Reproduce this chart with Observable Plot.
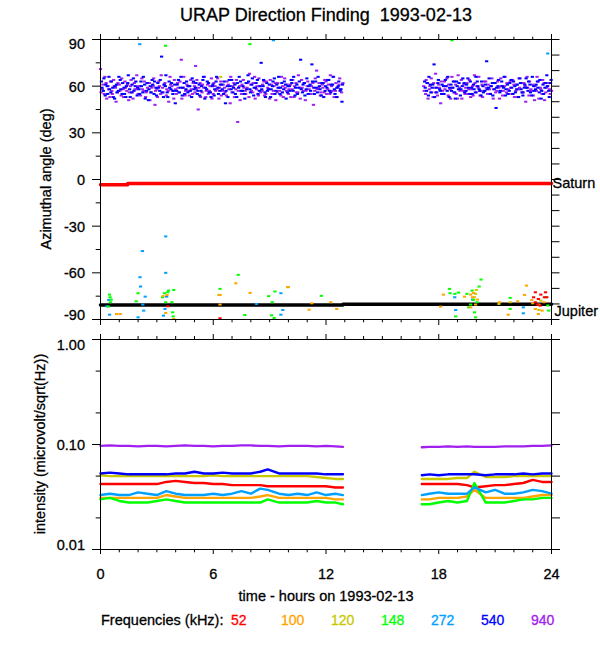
<!DOCTYPE html>
<html><head><meta charset="utf-8">
<script src="https://cdn.jsdelivr.net/npm/d3@7"></script>
<script src="https://cdn.jsdelivr.net/npm/@observablehq/plot@0.6"></script>
<style>
body{margin:0;background:#fff;font-family:"Liberation Sans",Arial,Helvetica,sans-serif;}
#wrap{position:relative;width:600px;height:650px;overflow:hidden;background:#fff;}
.t{position:absolute;white-space:nowrap;color:#000;-webkit-text-stroke:0.3px currentColor;}
#wrap svg{position:absolute;left:0;}
</style></head><body><div id="wrap"></div>
<script>
// ---------- tick values / labels ----------
const hourMajor = [0, 6, 12, 18, 24];
const hourMinor = [1,2,3,4,5,7,8,9,10,11,13,14,15,16,17,19,20,21,22,23];
const azMajor = [-60, -30, 0, 30, 60];
const azMinor = [-75, -45, -15, 15, 45, 75];
const azRight = [-90,-80,-70,-60,-50,-40,-30,-20,-10,0,10,20,30,40,50,60,70,80,90];
const intMajor = [0.01, 0.1, 1];
const intMinor = [0.02, 0.05, 0.2, 0.5];
const intRight = [0.01, 0.02, 0.05, 0.1, 0.2, 0.5, 1];
const freqs = ["52", "100", "120", "148", "272", "540", "940"];
const freqColors = ["#ff0000", "#ffa500", "#c8c800", "#00ff00", "#00a0ff", "#0000ff", "#a020f0"];

// ---------- reference source lines (hours, degrees) ----------
const saturnT = [0, 1.45, 1.45, 24];
const saturnA = [-3.3, -3.3, -2.5, -2.5];
const jupiterT = [0, 12.9, 12.9, 24];
const jupiterA = [-80.7, -80.7, -80.2, -80.2];

// ---------- azimuth points [hour, deg] per frequency ----------
const az940 = [[0.0,71],[0.1,58],[0.2,55],[0.3,62],[0.4,60],[0.5,53],[0.6,57],[0.7,64],[0.8,59],[0.9,56],
[1.0,61],[1.1,54],[1.2,58],[1.3,63],[1.4,57],[1.5,51],[1.6,60],[1.7,56],[1.8,62],[1.9,58],
[2.0,55],[2.1,60],[2.2,65],[2.3,57],[2.4,53],[2.5,59],[2.6,62],[2.7,56],[2.8,60],[2.9,48],
[3.0,58],[3.1,63],[3.2,55],[3.3,59],[3.4,61],[3.5,54],[3.6,57],[3.7,66],[3.8,60],[3.9,52],
[4.0,58],[4.1,62],[4.2,56],[4.3,77],[4.4,59],[4.5,54],[4.6,61],[4.7,57],[4.8,64],[4.9,55],
[5.0,60],[5.06,73],[5.1,58],[5.2,45],[5.3,62],[5.4,56],[5.5,59],[5.6,53],[5.7,61],[5.8,57],[5.9,65],
[6.0,55],[6.1,60],[6.2,58],[6.3,52],[6.4,63],[6.5,57],[6.6,59],[6.7,54],[6.8,61],[6.9,49],
[7.0,56],[7.1,62],[7.2,58],[7.3,37],[7.4,60],[7.5,55],[7.6,64],[7.7,57],[7.8,59],[7.9,53],
[8.0,61],[8.1,56],[8.2,66],[8.3,58],[8.4,54],[8.5,60],[8.6,57],[8.7,63],[8.8,55],[8.9,59],
[9.0,52],[9.1,61],[9.2,57],[9.3,62],[9.4,56],[9.5,59],[9.6,54],[9.7,60],[9.8,65],[9.9,57],
[10.0,55],[10.1,61],[10.2,58],[10.3,53],[10.4,62],[10.5,56],[10.6,59],[10.7,64],[10.8,57],[10.9,51],
[11.0,60],[11.1,58],[11.2,55],[11.3,62],[11.4,57],[11.5,70],[11.6,59],[11.7,54],[11.8,61],[11.9,56],
[12.0,63],[12.1,58],[12.2,55],[12.3,60],[12.4,66],[12.5,57],[12.6,53],[12.7,61],[12.8,58],[12.9,62],
[17.2,60],[17.3,55],[17.4,62],[17.5,58],[17.6,65],[17.7,53],[17.8,59],[17.9,56],[18.0,61],[18.1,49],
[18.2,57],[18.3,63],[18.4,60],[18.5,54],[18.6,58],[18.7,66],[18.8,56],[18.9,61],[19.0,52],[19.1,59],
[19.2,64],[19.3,57],[19.4,55],[19.5,62],[19.6,58],[19.7,53],[19.8,60],[19.9,67],[20.0,56],[20.1,59],
[20.2,54],[20.3,61],[20.4,57],[20.5,63],[20.6,55],[20.7,58],[20.8,60],[20.9,52],[21.0,62],[21.1,57],
[21.2,59],[21.3,65],[21.4,54],[21.5,60],[21.6,56],[21.7,58],[21.8,63],[21.9,55],[22.0,61],[22.1,57],
[22.2,53],[22.3,59],[22.4,62],[22.5,56],[22.6,60],[22.7,66],[22.8,54],[22.9,58],[23.0,61],[23.1,51],
[23.2,57],[23.3,63],[23.4,59],[23.5,55],[23.6,62],[23.7,56],[23.8,60],[23.9,58],[24.0,57],
[0.03,56],[0.13,61],[0.23,66],[0.33,52],[0.43,58],[0.53,63],[0.63,55],[0.73,60],[0.83,50],[0.93,62],
[1.03,57],[1.13,65],[1.23,53],[1.33,59],[1.43,61],[1.53,56],[1.63,64],[1.73,52],[1.83,58],[1.93,67],
[2.03,60],[2.13,54],[2.23,58],[2.33,63],[2.43,56],[2.53,62],[2.63,51],[2.73,59],[2.83,65],[2.93,57],
[3.03,53],[3.13,60],[3.23,67],[3.33,56],[3.43,62],[3.53,58],[3.63,50],[3.73,61],[3.83,57],[3.93,64],
[4.03,55],[4.13,59],[4.23,63],[4.33,52],[4.43,66],[4.53,57],[4.63,60],[4.73,54],[4.83,58],[4.93,62],
[5.03,56],[5.13,64],[5.23,59],[5.33,53],[5.43,61],[5.53,66],[5.63,57],[5.73,55],[5.83,60],[5.93,52],
[6.03,62],[6.13,57],[6.23,65],[6.33,59],[6.43,54],[6.53,61],[6.63,56],[6.73,63],[6.83,58],[6.93,66],
[7.03,60],[7.13,53],[7.23,64],[7.33,57],[7.43,51],[7.53,61],[7.63,59],[7.73,55],[7.83,62],[7.93,68],
[8.03,57],[8.13,62],[8.23,52],[8.33,60],[8.43,65],[8.53,56],[8.63,61],[8.73,54],[8.83,63],[8.93,58],
[9.03,64],[9.13,55],[9.23,60],[9.33,51],[9.43,62],[9.53,57],[9.63,66],[9.73,53],[9.83,59],[9.93,61],
[10.03,58],[10.13,53],[10.23,64],[10.33,60],[10.43,56],[10.53,67],[10.63,52],[10.73,59],[10.83,62],[10.93,57],
[11.03,63],[11.13,55],[11.23,60],[11.33,48],[11.43,65],[11.53,58],[11.63,62],[11.73,56],[11.83,59],[11.93,64],
[12.03,55],[12.13,61],[12.23,67],[12.33,57],[12.43,53],[12.53,62],[12.63,59],[12.73,65],[12.83,56],
[17.23,57],[17.33,64],[17.43,52],[17.53,60],[17.63,56],[17.73,62],[17.83,68],[17.93,54],[18.03,59],[18.13,63],
[18.23,55],[18.33,58],[18.43,65],[18.53,61],[18.63,52],[18.73,59],[18.83,63],[18.93,55],[19.03,67],[19.13,57],
[19.23,52],[19.33,61],[19.43,59],[19.53,55],[19.63,64],[19.73,58],[19.83,54],[19.93,62],[20.03,60],[20.13,66],
[20.23,57],[20.33,53],[20.43,63],[20.53,59],[20.63,61],[20.73,55],[20.83,65],[20.93,58],[21.03,56],[21.13,63],
[21.23,52],[21.33,60],[21.43,57],[21.53,66],[21.63,62],[21.73,55],[21.83,59],[21.93,64],[22.03,53],[22.13,61],
[22.23,58],[22.33,65],[22.43,56],[22.53,62],[22.63,50],[22.73,59],[22.83,63],[22.93,57],[23.03,54],[23.13,60],
[23.23,66],[23.33,52],[23.43,58],[23.53,64],[23.63,51],[23.73,59],[23.83,62],[23.93,55]];

const az540 = [[0.05,63],[0.15,57],[0.25,54],[0.35,60],[0.45,66],[0.55,56],[0.65,59],[0.75,52],[0.85,61],[0.95,57],
[1.05,64],[1.15,55],[1.25,59],[1.35,53],[1.45,62],[1.55,58],[1.65,56],[1.75,65],[1.85,60],[1.95,54],
[2.05,58],[2.15,63],[2.25,56],[2.35,61],[2.45,57],[2.55,51],[2.65,60],[2.75,64],[2.85,55],[2.95,59],
[3.05,62],[3.25,79],[3.15,57],[3.35,53],[3.45,60],[3.55,56],[3.65,63],[3.75,58],[3.85,55],[3.95,61],
[4.05,57],[4.15,64],[4.25,59],[4.35,54],[4.45,62],[4.55,58],[4.65,56],[4.75,60],[4.85,53],[4.95,63],
[5.05,59],[5.15,55],[5.25,61],[5.35,57],[5.45,64],[5.55,52],[5.65,58],[5.75,62],[5.85,56],[5.95,60],
[6.05,54],[6.15,63],[6.25,59],[6.35,57],[6.45,61],[6.55,55],[6.65,49],[6.75,60],[6.85,64],[6.95,58],
[7.05,56],[7.15,61],[7.25,53],[7.35,59],[7.45,63],[7.55,57],[7.65,55],[7.75,62],[7.85,67],[7.95,58],
[8.05,61],[8.15,54],[8.25,59],[8.35,64],[8.45,57],[8.55,75],[8.65,60],[8.75,56],[8.85,62],[8.95,58],
[9.05,53],[9.15,60],[9.25,65],[9.35,57],[9.45,59],[9.55,55],[9.65,62],[9.75,58],[9.85,61],[9.95,56],
[10.05,60],[10.15,64],[10.25,57],[10.35,54],[10.45,61],[10.55,59],[10.65,77],[10.75,56],[10.85,62],[10.95,58],
[11.05,55],[11.15,61],[11.25,74],[11.35,59],[11.45,63],[11.55,56],[11.65,60],[11.75,54],[11.85,62],[11.95,57],
[12.05,59],[12.15,64],[12.25,56],[12.35,61],[12.45,58],[12.55,53],[12.65,60],[12.75,57],[12.85,50],
[17.25,63],[17.35,57],[17.45,54],[17.55,61],[17.65,59],[17.75,74],[17.85,56],[17.95,62],[18.05,58],[18.15,55],
[18.25,60],[18.35,64],[18.45,57],[18.55,53],[18.65,61],[18.75,59],[18.85,56],[18.95,63],[19.05,58],[19.15,54],
[19.25,60],[19.35,62],[19.45,57],[19.55,65],[19.65,55],[19.75,59],[19.85,61],[19.95,56],[20.05,63],[20.15,58],
[20.25,54],[20.35,60],[20.45,57],[20.55,76],[20.65,59],[20.75,55],[20.85,62],[20.95,58],[21.05,46],[21.15,60],
[21.25,56],[21.35,63],[21.45,59],[21.55,54],[21.65,61],[21.75,57],[21.85,64],[21.95,55],[22.05,60],[22.15,58],
[22.25,53],[22.35,62],[22.45,56],[22.55,59],[22.65,65],[22.75,57],[22.85,61],[22.95,54],[23.05,60],[23.15,58],
[23.25,63],[23.35,56],[23.45,52],[23.55,61],[23.65,59],[23.75,67],[23.85,57],[23.95,62],
[0.08,59],[0.18,65],[0.28,61],[0.38,55],[0.48,58],[0.58,63],[0.68,53],[0.78,60],[0.88,56],[0.98,66],
[1.08,58],[1.18,62],[1.28,55],[1.38,60],[1.48,67],[1.58,53],[1.68,61],[1.78,57],[1.88,63],[1.98,59],
[2.08,55],[2.18,60],[2.28,66],[2.38,52],[2.48,62],[2.58,58],[2.68,56],[2.78,61],[2.88,63],[2.98,54],
[3.08,59],[3.18,64],[3.28,56],[3.38,61],[3.48,67],[3.58,53],[3.68,59],[3.78,62],[3.88,57],[3.98,49],
[4.08,61],[4.18,56],[4.28,66],[4.38,59],[4.48,55],[4.58,63],[4.68,60],[4.78,57],[4.88,65],[4.98,58],
[5.08,62],[5.18,57],[5.28,54],[5.38,60],[5.48,66],[5.58,59],[5.68,63],[5.78,56],[5.88,53],[5.98,61],
[6.08,58],[6.18,66],[6.28,55],[6.38,61],[6.48,58],[6.58,63],[6.68,57],[6.78,53],[6.88,60],[6.98,64],
[7.08,59],[7.18,55],[7.28,62],[7.38,66],[7.48,57],[7.58,60],[7.68,52],[7.78,58],[7.88,63],[7.98,56],
[8.08,65],[8.18,59],[8.28,62],[8.38,55],[8.48,60],[8.58,58],[8.68,64],[8.78,53],[8.88,57],[8.98,61],
[9.08,58],[9.18,63],[9.28,55],[9.38,61],[9.48,66],[9.58,59],[9.68,56],[9.78,63],[9.88,52],[9.98,60],
[10.08,57],[10.18,62],[10.28,66],[10.38,59],[10.48,55],[10.58,63],[10.68,58],[10.78,61],[10.88,54],[10.98,65],
[11.08,60],[11.18,57],[11.28,63],[11.38,55],[11.48,59],[11.58,66],[11.68,58],[11.78,62],[11.88,53],[11.98,60],
[12.08,64],[12.18,57],[12.28,61],[12.38,66],[12.48,55],[12.58,59],[12.68,63],[12.78,58],[12.88,61],
[17.28,59],[17.38,62],[17.48,66],[17.58,56],[17.68,61],[17.78,53],[17.88,59],[17.98,64],[18.08,57],[18.18,61],
[18.28,55],[18.38,60],[18.48,66],[18.58,59],[18.68,57],[18.78,63],[18.88,52],[18.98,60],[19.08,62],[19.18,58],
[19.28,65],[19.38,56],[19.48,61],[19.58,59],[19.68,63],[19.78,55],[19.88,58],[19.98,66],[20.08,60],[20.18,57],
[20.28,63],[20.38,56],[20.48,61],[20.58,58],[20.68,65],[20.78,60],[20.88,54],[20.98,62],[21.08,59],[21.18,64],
[21.28,57],[21.38,60],[21.48,66],[21.58,58],[21.68,55],[21.78,62],[21.88,59],[21.98,63],[22.08,56],[22.18,61],
[22.28,65],[22.38,58],[22.48,54],[22.58,61],[22.68,59],[22.78,63],[22.88,56],[22.98,66],[23.08,57],[23.18,61],
[23.28,59],[23.38,64],[23.48,57],[23.58,55],[23.68,62],[23.78,60],[23.88,53],[23.98,64]];

const az272 = [[0.34,-81.5],[0.44,-77.4],[0.48,-86.9],[2.0,-88.6],[2.1,-62.8],[2.13,-68.8],[2.23,-46],[2.25,-80.4],
[2.3,-84.3],[2.38,-75.3],[3.35,-87.5],[3.47,-36.6],[3.47,-60],[3.52,-75.3],[3.43,-83.2],[8.3,-80],[9.6,-73.1],
[9.6,-86.9],[9.7,-83.9],[18.9,-83.9],[18.85,-75.7],[19.8,-77.2],[22.5,-82.2],[22.5,-86],[2.09,87],[9.2,89.5],[23.8,81]];
const az148 = [[0.48,-74],[0.51,-75.7],[0.53,-78.9],[0.42,-81.7],[0.57,-77.2],[1.9,-78.3],[2.0,-73.1],[3.3,-75.7],
[3.4,-73.1],[3.58,-72.5],[3.62,-71.4],[3.8,-78.9],[3.84,-85.4],[3.87,-88],[3.9,-71],[3.47,-78.9],[6.36,-70.3],
[7.33,-61.3],[7.68,-87.1],[8.95,-75],[9.14,-78.9],[9.28,-72],[9.1,-87.3],[9.24,-89],[11.75,-74.8],[18.57,-70.3],
[18.6,-73.1],[18.86,-73.5],[19.05,-72.7],[18.9,-88],[19.5,-73.5],[19.6,-82.2],[19.77,-71.4],[19.85,-77.4],
[19.9,-85.4],[19.96,-88.6],[20.04,-78.9],[20.15,-68.8],[20.25,-64.3],[19.7,-80.4],[21.8,-76.1],[21.8,-83.2],
[23.7,-75.7],[23.8,-81],[23.85,-84.3],[3.46,86],[7.95,87],[18.7,89.5]];
const az120 = [[6.3,-74.2],[10.0,-69.2],[19.96,-73.5],[19.9,-75.7],[20.0,-71],[21.8,-78.9],[21.2,-80],
[23.43,-77.8],[23.33,-83.9],[6.4,66]];
const az100 = [[0.86,-86.5],[1.05,-86.5],[3.33,-75],[3.54,-74.2],[3.47,-85.8],[3.9,-89.7],[6.36,-74.2],[6.36,-80.4],
[7.2,-66.7],[7.96,-72.9],[9.96,-69.2],[11.24,-79.6],[11.1,-83.7],[12.25,-78.9],[12.57,-83.2],[18.25,-74],
[18.1,-81.7],[19.37,-75.3],[19.7,-74],[19.8,-75.7],[19.85,-72.9],[19.96,-80.4],[19.7,-82.2],[20.06,-77.2],
[21.24,-78.9],[21.7,-86.9],[22.2,-78.3],[22.57,-74.2],[22.67,-68.2],[23.0,-79.6],[23.14,-83.2],[23.33,-80.4],
[23.5,-84.3],[23.6,-78.9],[23.3,-86.5],[22.95,-77.4]];
const az52 = [[3.58,-81.5],[6.36,-89.2],[23.14,-72.5],[23.05,-75.7],[23.3,-76.8],[23.43,-74],[23.68,-72.5],
[23.62,-75.7],[23.24,-80.4],[23.4,-81.1],[23.75,-75.7],[23.14,-78.9]];

// ---------- intensity (microvolt/sqrt(Hz)) ----------
const hours1 = [0,0.5,1,1.5,2,2.5,3,3.5,4,4.5,5,5.5,6,6.5,7,7.5,8,8.5,8.9,9.5,10,10.5,11,11.5,12,12.5,12.9];
const hours2 = [17.1,17.5,18,18.5,19,19.5,19.9,20.5,21,21.5,22,22.5,23,23.5,24];
const int52a  = [0.042,0.042,0.042,0.042,0.042,0.042,0.042,0.044,0.045,0.044,0.043,0.043,0.042,0.042,0.041,0.041,0.041,0.041,0.040,0.040,0.040,0.040,0.040,0.040,0.040,0.039,0.039];
const int52b  = [0.042,0.042,0.042,0.042,0.042,0.041,0.039,0.040,0.041,0.041,0.042,0.043,0.046,0.044,0.044];
const int100a = [0.031,0.031,0.031,0.031,0.031,0.031,0.031,0.033,0.032,0.031,0.031,0.031,0.031,0.031,0.031,0.031,0.031,0.032,0.033,0.031,0.031,0.031,0.031,0.031,0.031,0.030,0.030];
const int100b = [0.030,0.030,0.031,0.031,0.031,0.032,0.037,0.031,0.031,0.031,0.031,0.031,0.032,0.033,0.033];
const int120a = [0.051,0.050,0.050,0.050,0.050,0.050,0.050,0.050,0.050,0.050,0.050,0.050,0.051,0.050,0.050,0.050,0.050,0.050,0.050,0.050,0.050,0.050,0.050,0.049,0.048,0.047,0.047];
const int120b = [0.047,0.047,0.047,0.047,0.048,0.048,0.055,0.049,0.049,0.049,0.050,0.050,0.050,0.050,0.050];
const int148a = [0.030,0.031,0.029,0.028,0.028,0.028,0.029,0.030,0.029,0.028,0.028,0.028,0.028,0.028,0.028,0.028,0.028,0.028,0.030,0.028,0.028,0.028,0.028,0.029,0.028,0.028,0.027];
const int148b = [0.027,0.027,0.028,0.029,0.028,0.029,0.043,0.028,0.028,0.028,0.029,0.030,0.030,0.031,0.031];
const int272a = [0.033,0.034,0.033,0.033,0.035,0.034,0.033,0.036,0.034,0.033,0.033,0.033,0.034,0.033,0.034,0.036,0.034,0.038,0.037,0.034,0.033,0.034,0.033,0.035,0.033,0.034,0.033];
const int272b = [0.033,0.034,0.035,0.034,0.034,0.034,0.039,0.035,0.037,0.034,0.034,0.035,0.037,0.036,0.034];
const int540a = [0.053,0.054,0.053,0.052,0.052,0.052,0.052,0.052,0.053,0.053,0.055,0.053,0.053,0.054,0.053,0.053,0.053,0.055,0.058,0.053,0.053,0.053,0.053,0.053,0.052,0.052,0.052];
const int540b = [0.051,0.052,0.051,0.052,0.052,0.052,0.052,0.051,0.052,0.052,0.052,0.053,0.052,0.053,0.053];
const int940a = [0.097,0.098,0.097,0.097,0.096,0.097,0.097,0.096,0.097,0.098,0.097,0.097,0.096,0.097,0.097,0.098,0.098,0.097,0.097,0.096,0.097,0.097,0.097,0.096,0.097,0.096,0.095];
const int940b = [0.094,0.095,0.095,0.096,0.095,0.096,0.095,0.095,0.095,0.096,0.096,0.096,0.097,0.097,0.098];

// ---------- build tables ----------
const intByFreq = [[int52a,int52b],[int100a,int100b],[int120a,int120b],[int148a,int148b],[int272a,int272b],[int540a,int540b],[int940a,int940b]];
const toPts = arr => arr.map(([t, v]) => ({t, v}));
const intRows = i => [
  ...hours1.map((t, j) => ({t, v: intByFreq[i][0][j], seg: "a"})),
  ...hours2.map((t, j) => ({t, v: intByFreq[i][1][j], seg: "b"}))
];

const FONT = '"Liberation Sans", Arial, Helvetica, sans-serif';
const FS = 14.5;
const baseStyle = {fontFamily: FONT, fontSize: FS + "px", color: "black", background: "transparent", overflow: "visible"};
const tickOpts = (anchor, size) => ({anchor, tickSize: size, stroke: "black", fill: "none", label: null});
const dash = {draw(ctx) { ctx.rect(-1.6, -1, 3.2, 2); }};
const dotOpts = c => ({x: "t", y: "v", symbol: dash, r: 1.5, fill: c, stroke: null});
const txt = {fill: "black", stroke: "black", strokeWidth: 0.3};

// ---------- top panel: azimuth ----------
const topPlot = Plot.plot({
  width: 600, height: 299,
  marginTop: 9, marginBottom: 10, marginLeft: 100, marginRight: 49,
  x: {domain: [0, 24], axis: null},
  y: {domain: [-90, 90], axis: null},
  style: baseStyle,
  marks: [
    Plot.dot(toPts(az940), dotOpts(freqColors[6])),
    Plot.dot(toPts(az540), dotOpts(freqColors[5])),
    Plot.line(saturnT, {x: saturnT, y: saturnA, stroke: "#ff0000", strokeWidth: 3.5}),
    Plot.line(jupiterT, {x: jupiterT, y: jupiterA, stroke: "#000000", strokeWidth: 3.5}),
    Plot.dot(toPts(az272), dotOpts(freqColors[4])),
    Plot.dot(toPts(az148), dotOpts(freqColors[3])),
    Plot.dot(toPts(az120), dotOpts(freqColors[2])),
    Plot.dot(toPts(az100), dotOpts(freqColors[1])),
    Plot.dot(toPts(az52), dotOpts(freqColors[0])),
    Plot.frame({stroke: "black"}),
    Plot.axisX(hourMajor, tickOpts("top", 6)),
    Plot.axisX(hourMinor, tickOpts("top", 3.3)),
    Plot.axisX(hourMajor, tickOpts("bottom", 6)),
    Plot.axisX(hourMinor, tickOpts("bottom", 3.3)),
    Plot.axisY([-90, ...azMajor, 90], tickOpts("left", 8)),
    Plot.axisY(azMinor, tickOpts("left", 4.3)),
    Plot.axisY(azRight, tickOpts("right", 7.5)),
    Plot.text(azMajor, {frameAnchor: "left", y: d => d, text: d => String(d), textAnchor: "end", dx: -15.5, dy: 1, ...txt}),
    Plot.text([90], {frameAnchor: "left", y: d => d, text: d => String(d), textAnchor: "end", dx: -15.5, dy: 5, ...txt}),
    Plot.text([-90], {frameAnchor: "left", y: d => d, text: d => String(d), textAnchor: "end", dx: -15.5, dy: -4.3, ...txt}),
    Plot.text(["Saturn"], {x: [24], y: [saturnA[3]], text: d => d, textAnchor: "start", dx: 1, dy: 0, ...txt}),
    Plot.text(["Jupiter"], {x: [24], y: [jupiterA[3]], text: d => d, textAnchor: "start", dx: 3, dy: 7, ...txt})
  ]
});

// ---------- bottom panel: intensity ----------
const botPlot = Plot.plot({
  width: 600, height: 256,
  marginTop: 10, marginBottom: 36, marginLeft: 100, marginRight: 49,
  x: {domain: [0, 24], axis: null},
  y: {type: "log", domain: [0.01, 1], axis: null},
  style: baseStyle,
  marks: [
    ...freqs.map((f, i) => Plot.line(intRows(i), {x: "t", y: "v", z: "seg", stroke: freqColors[i], strokeWidth: 2.4})),
    Plot.frame({stroke: "black"}),
    Plot.axisX(hourMajor, tickOpts("top", 6)),
    Plot.axisX(hourMinor, tickOpts("top", 4)),
    Plot.axisX(hourMajor, tickOpts("bottom", 5)),
    Plot.axisX(hourMinor, tickOpts("bottom", 3.3)),
    Plot.axisY(intMajor, tickOpts("left", 8)),
    Plot.axisY(intMinor, tickOpts("left", 4.3)),
    Plot.axisY(intRight, tickOpts("right", 8)),
    Plot.text([0.1], {frameAnchor: "left", y: d => d, text: d => d.toFixed(2), textAnchor: "end", dx: -15.5, dy: 0.7, ...txt}),
    Plot.text([1], {frameAnchor: "left", y: d => d, text: d => d.toFixed(2), textAnchor: "end", dx: -15.5, dy: 5.7, ...txt}),
    Plot.text([0.01], {frameAnchor: "left", y: d => d, text: d => d.toFixed(2), textAnchor: "end", dx: -15.5, dy: -4.3, ...txt}),
    Plot.text(hourMajor, {x: d => d, frameAnchor: "bottom", text: d => String(d), lineAnchor: "top", dy: 19, ...txt})
  ]
});

// ---------- assemble ----------
const wrap = document.getElementById("wrap");
function addText(str, css) {
  const d = document.createElement("div");
  d.className = "t";
  d.textContent = str;
  Object.assign(d.style, css);
  wrap.appendChild(d);
  return d;
}
topPlot.style.top = "30px";
botPlot.style.top = "329px";
wrap.appendChild(topPlot);
wrap.appendChild(botPlot);

addText("URAP Direction Finding\u00a0 1993-02-13", {left: "326px", top: "5.5px", fontSize: "18px", lineHeight: "18px", transform: "translateX(-50%)"});
addText("Azimuthal angle (deg)", {left: "46px", top: "179px", fontSize: FS + "px", lineHeight: FS + "px", transform: "translate(-50%,-50%) rotate(-90deg)"});
addText("intensity (microvolt/sqrt(Hz))", {left: "40px", top: "444px", fontSize: FS + "px", lineHeight: FS + "px", transform: "translate(-50%,-50%) rotate(-90deg)"});
addText("time - hours on 1993-02-13", {left: "326px", top: "588.5px", fontSize: FS + "px", lineHeight: FS + "px", transform: "translateX(-50%)"});
addText("Frequencies (kHz):", {left: "101px", top: "612.7px", fontSize: FS + "px", lineHeight: FS + "px"});
freqs.forEach((f, i) => addText(f, {left: (231 + 50 * i) + "px", top: "613px", fontSize: "14px", lineHeight: "14px", color: freqColors[i]}));
</script></body></html>
